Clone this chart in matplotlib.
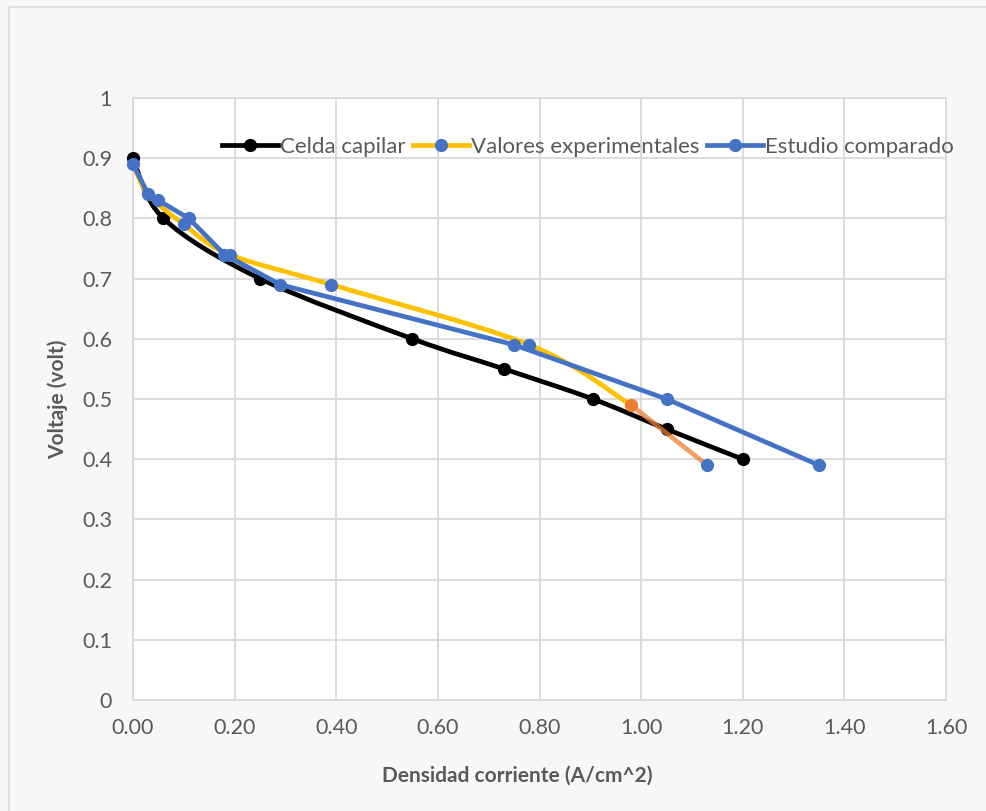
import numpy as np
import matplotlib
matplotlib.use("Agg")
import matplotlib.pyplot as plt
from matplotlib.path import Path
from matplotlib.patches import PathPatch, Rectangle
from matplotlib.lines import Line2D

plt.rcParams['font.family'] = ['Lato', 'DejaVu Sans']

# ---- data ----
celda_x = [0.00, 0.06, 0.25, 0.55, 0.73, 0.905, 1.05, 1.20]
celda_y = [0.90, 0.80, 0.70, 0.60, 0.55, 0.50, 0.45, 0.40]

exp_x = [0.00, 0.03, 0.10, 0.19, 0.39, 0.78, 0.98]
exp_y = [0.89, 0.84, 0.79, 0.74, 0.69, 0.59, 0.49]
exp_tail_x = [0.98, 1.13]
exp_tail_y = [0.49, 0.39]

est_x = [0.00, 0.03, 0.05, 0.11, 0.18, 0.29, 0.75, 1.05, 1.35]
est_y = [0.89, 0.84, 0.83, 0.80, 0.74, 0.69, 0.59, 0.50, 0.39]

xticks = [0.0, 0.2, 0.4, 0.6, 0.8, 1.0, 1.2, 1.4, 1.6]
yticks = [0, 0.1, 0.2, 0.3, 0.4, 0.5, 0.6, 0.7, 0.8, 0.9, 1.0]
ytick_labels = ["0", "0.1", "0.2", "0.3", "0.4", "0.5", "0.6", "0.7", "0.8", "0.9", "1"]

BLACK = '#000000'
YELLOW = '#FFC000'
BLUE = '#4472C4'
ORANGE = '#ED7D31'
GRAY = '#595959'


def smooth_path(xs, ys):
    """Excel-like smoothed line: Catmull-Rom converted to cubic Bezier segments."""
    pts = np.column_stack([xs, ys]).astype(float)
    n = len(pts)
    verts = [pts[0]]
    codes = [Path.MOVETO]
    for i in range(n - 1):
        p0 = pts[i - 1] if i > 0 else pts[i]
        p1 = pts[i]
        p2 = pts[i + 1]
        p3 = pts[i + 2] if i + 2 < n else pts[i + 1]
        c1 = p1 + (p2 - p0) / 6.0
        c2 = p2 - (p3 - p1) / 6.0
        verts += [c1, c2, p2]
        codes += [Path.CURVE4] * 3
    return Path(verts, codes)


fig = plt.figure(figsize=(9.86, 8.11), dpi=100)
fig.patch.set_facecolor('#f7f7f7')
# chart-area border
fig.patches.append(Rectangle((9 / 986, -0.01), 1.2, 1 - 7 / 811 + 0.01,
                             transform=fig.transFigure, fill=False,
                             edgecolor='#d9d9d9', linewidth=1.2))

ax = fig.add_axes([133 / 986, 1 - 700 / 811, (946 - 133) / 986, (700 - 98) / 811])
ax.set_facecolor('white')
ax.set_xlim(0, 1.6)
ax.set_ylim(0, 1.0)
ax.set_xticks(xticks)
ax.set_yticks(yticks)
ax.set_xticklabels([f"{v:.2f}" for v in xticks])
ax.set_yticklabels(ytick_labels)
ax.tick_params(length=0, labelsize=15.5, labelcolor=GRAY)
ax.tick_params(axis='y', pad=15)
ax.tick_params(axis='x', pad=13)
ax.grid(True, color='#d9d9d9', linewidth=1.3)
ax.set_axisbelow(True)
for s in ax.spines.values():
    s.set_color('#d9d9d9')
    s.set_linewidth(1.2)

lw = 3.4
ms = 8.5

# Celda capilar (smoothed)
ax.add_patch(PathPatch(smooth_path(celda_x, celda_y), fill=False, edgecolor=BLACK,
                       linewidth=lw, zorder=3, capstyle='round', joinstyle='round',
                       clip_on=False))
ax.plot(celda_x, celda_y, linestyle='none', marker='o', markersize=ms,
        color=BLACK, zorder=3, clip_on=False)

# Valores experimentales (smoothed)
ax.add_patch(PathPatch(smooth_path(exp_x, exp_y), fill=False, edgecolor=YELLOW,
                       linewidth=lw, zorder=4, capstyle='round', joinstyle='round',
                       clip_on=False))
ax.plot(exp_tail_x, exp_tail_y, color=ORANGE, alpha=0.75, linewidth=lw,
        solid_capstyle='round', zorder=5)
ax.plot(exp_x[2:-1], exp_y[2:-1], linestyle='none', marker='o', markersize=ms,
        color=BLUE, zorder=4)
ax.plot([exp_tail_x[0]], [exp_tail_y[0]], linestyle='none', marker='o', markersize=ms,
        color=ORANGE, zorder=6)
ax.plot([exp_tail_x[1]], [exp_tail_y[1]], linestyle='none', marker='o', markersize=ms,
        color=BLUE, zorder=6)

# Estudio comparado (straight)
ax.plot(est_x, est_y, color=BLUE, linewidth=lw, marker='o', markersize=ms,
        solid_joinstyle='round', solid_capstyle='round', zorder=5, clip_on=False)

handles = [
    Line2D([], [], color=BLACK, linewidth=lw, marker='o', markersize=ms),
    Line2D([], [], color=YELLOW, linewidth=lw, marker='o', markersize=ms,
           markerfacecolor=BLUE, markeredgecolor=BLUE),
    Line2D([], [], color=BLUE, linewidth=lw, marker='o', markersize=ms),
]
labels = ["Celda capilar", "Valores experimentales", "Estudio comparado"]
leg = fig.legend(handles, labels, loc='center', ncol=3,
                 bbox_to_anchor=(588 / 986, 1 - 147 / 811), frameon=False,
                 fontsize=16, handlelength=2.5, handletextpad=0.1,
                 columnspacing=0.35, labelcolor=GRAY, borderpad=0)

fig.text(58 / 986, 1 - 399 / 811, "Voltaje (volt)", rotation=90, ha='center',
         va='center', fontsize=15, fontweight='bold', color=GRAY)
fig.text(517 / 986, 1 - 776 / 811, "Densidad corriente (A/cm^2)", ha='center',
         va='center', fontsize=15, fontweight='bold', color=GRAY)

fig.savefig("out.png", dpi=100, facecolor=fig.get_facecolor())
